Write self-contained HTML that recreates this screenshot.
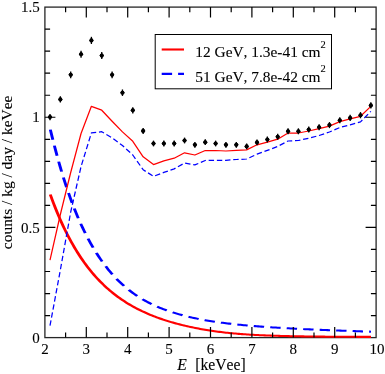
<!DOCTYPE html>
<html><head><meta charset="utf-8"><title>plot</title>
<style>
html,body{margin:0;padding:0;background:#fff;}
svg{display:block;will-change:transform;}
text{font-family:"Liberation Serif",serif;fill:#000;stroke:#000;stroke-width:0.1px;font-kerning:none;}
</style></head><body>
<svg width="385" height="374" viewBox="0 0 385 374">
<rect x="0" y="0" width="385" height="374" fill="#fff"/>

<rect x="44.9" y="7.1" width="331.20" height="330.50" fill="none" stroke="#262626" stroke-width="1.3"/>
<path transform="scale(1.42,1)" d="M35.423,194.54 L36.557,198.97 L37.692,203.25 L38.827,207.39 L39.962,211.39 L41.097,215.25 L42.232,218.99 L43.367,222.60 L44.502,226.08 L45.637,229.46 L46.772,232.72 L47.906,235.88 L49.041,238.93 L50.176,241.89 L51.311,244.74 L52.446,247.51 L53.581,250.19 L54.716,252.78 L55.851,255.29 L56.986,257.72 L58.121,260.07 L59.255,262.35 L60.390,264.56 L61.525,266.69 L62.660,268.77 L63.795,270.77 L64.930,272.72 L66.065,274.60 L67.200,276.43 L68.335,278.20 L69.470,279.92 L70.604,281.59 L71.739,283.20 L72.874,284.77 L74.009,286.29 L75.144,287.76 L76.279,289.19 L77.414,290.58 L78.549,291.93 L79.684,293.23 L80.819,294.50 L81.953,295.73 L83.088,296.93 L84.223,298.09 L85.358,299.21 L86.493,300.31 L87.628,301.37 L88.763,302.40 L89.898,303.40 L91.033,304.38 L92.168,305.32 L93.302,306.24 L94.437,307.13 L95.572,308.00 L96.707,308.84 L97.842,309.66 L98.977,310.45 L100.112,311.23 L101.247,311.98 L102.382,312.71 L103.517,313.42 L104.651,314.11 L105.786,314.79 L106.921,315.44 L108.056,316.08 L109.191,316.70 L110.326,317.30 L111.461,317.89 L112.596,318.47 L113.731,319.03 L114.866,319.57 L116.000,320.10 L117.135,320.62 L118.270,321.12 L119.405,321.61 L120.540,322.09 L121.675,322.55 L122.810,323.01 L123.945,323.45 L125.080,323.88 L126.215,324.30 L127.349,324.71 L128.484,325.11 L129.619,325.50 L130.754,325.88 L131.889,326.25 L133.024,326.61 L134.159,326.96 L135.294,327.30 L136.429,327.64 L137.564,327.96 L138.698,328.28 L139.833,328.59 L140.968,328.89 L142.103,329.18 L143.238,329.46 L144.373,329.74 L145.508,330.01 L146.643,330.27 L147.778,330.52 L148.913,330.77 L150.047,331.01 L151.182,331.24 L152.317,331.46 L153.452,331.67 L154.587,331.88 L155.722,332.08 L156.857,332.28 L157.992,332.46 L159.127,332.64 L160.262,332.82 L161.396,332.98 L162.531,333.15 L163.666,333.30 L164.801,333.45 L165.936,333.59 L167.071,333.73 L168.206,333.86 L169.341,333.99 L170.476,334.11 L171.611,334.23 L172.745,334.34 L173.880,334.45 L175.015,334.55 L176.150,334.65 L177.285,334.74 L178.420,334.83 L179.555,334.92 L180.690,335.00 L181.825,335.08 L182.960,335.16 L184.094,335.23 L185.229,335.30 L186.364,335.37 L187.499,335.44 L188.634,335.50 L189.769,335.56 L190.904,335.61 L192.039,335.67 L193.174,335.72 L194.309,335.77 L195.443,335.82 L196.578,335.87 L197.713,335.91 L198.848,335.96 L199.983,336.00 L201.118,336.04 L202.253,336.07 L203.388,336.11 L204.523,336.15 L205.658,336.18 L206.792,336.21 L207.927,336.25 L209.062,336.28 L210.197,336.30 L211.332,336.33 L212.467,336.36 L213.602,336.39 L214.737,336.41 L215.872,336.43 L217.007,336.46 L218.141,336.48 L219.276,336.50 L220.411,336.52 L221.546,336.54 L222.681,336.56 L223.816,336.58 L224.951,336.60 L226.086,336.61 L227.221,336.63 L228.356,336.64 L229.490,336.66 L230.625,336.67 L231.760,336.69 L232.895,336.70 L234.030,336.71 L235.165,336.73 L236.300,336.74 L237.435,336.75 L238.570,336.76 L239.705,336.77 L240.839,336.78 L241.974,336.79 L243.109,336.80 L244.244,336.81 L245.379,336.81 L246.514,336.82 L247.649,336.83 L248.784,336.84 L249.919,336.84 L251.054,336.85 L252.188,336.85 L253.323,336.86 L254.458,336.87 L255.593,336.87 L256.728,336.87 L257.863,336.88 L258.998,336.88 L260.133,336.89 L261.268,336.89" fill="none" stroke="#ff0000" stroke-width="2.05" stroke-linecap="butt" stroke-linejoin="round"/>
<path transform="scale(1.42,1)" d="M35.458,129.69 L36.592,136.21 L37.229,139.79 M38.297,145.69 L38.862,148.78 L39.997,154.79 L40.182,155.74 M41.333,161.62 L42.266,166.26 L43.379,171.61 M44.638,177.44 L45.670,182.07 L46.805,186.98 L46.889,187.33 M48.281,193.11 L49.074,196.31 L50.209,200.72 L50.782,202.88 M52.330,208.57 L52.479,209.11 L53.613,213.08 L54.748,216.92 L55.133,218.18 M56.874,223.75 L57.017,224.21 L58.152,227.66 L59.287,231.00 L60.037,233.13 M62.009,238.55 L62.691,240.37 L63.826,243.28 L64.961,246.10 L65.594,247.62 M67.838,252.82 L68.365,254.00 L69.499,256.47 L70.634,258.85 L71.769,261.15 L71.923,261.45 M74.484,266.35 L75.173,267.61 L76.308,269.63 L77.442,271.58 L78.577,273.45 L79.152,274.36 M82.080,278.82 L83.116,280.31 L84.251,281.89 L85.386,283.41 L86.520,284.88 L87.394,285.98 M90.696,289.88 L91.059,290.29 L92.194,291.53 L93.329,292.72 L94.463,293.87 L95.598,294.99 L96.630,295.97 M100.279,299.18 L101.272,300.00 L102.406,300.90 L103.541,301.77 L104.676,302.61 L105.811,303.43 L106.741,304.07 M110.649,306.60 L111.484,307.11 L112.619,307.78 L113.754,308.43 L114.888,309.05 L116.023,309.66 L117.158,310.25 L117.465,310.40 M121.534,312.36 L121.697,312.43 L122.831,312.94 L123.966,313.43 L125.101,313.90 L126.236,314.36 L127.370,314.81 L128.505,315.24 L128.565,315.27 M132.731,316.76 L133.044,316.86 L134.179,317.24 L135.313,317.61 L136.448,317.96 L137.583,318.31 L138.718,318.64 L139.852,318.97 L139.885,318.98 M144.108,320.10 L144.391,320.17 L145.526,320.44 L146.661,320.71 L147.795,320.98 L148.930,321.23 L150.065,321.48 L151.199,321.72 L151.338,321.75 M155.592,322.60 L155.738,322.63 L156.873,322.84 L158.008,323.05 L159.143,323.25 L160.277,323.44 L161.412,323.63 L162.547,323.82 L162.861,323.87 M167.132,324.53 L168.220,324.68 L169.355,324.84 L170.490,325.00 L171.624,325.15 L172.759,325.30 L173.894,325.44 L174.423,325.51 M178.704,326.02 L179.568,326.12 L180.702,326.24 L181.837,326.36 L182.972,326.48 L184.106,326.61 L185.241,326.73 L186.007,326.81 M190.292,327.23 L190.915,327.29 L192.050,327.40 L193.184,327.50 L194.319,327.60 L195.454,327.70 L196.588,327.80 L197.601,327.89 M201.890,328.23 L202.262,328.26 L203.397,328.35 L204.531,328.43 L205.666,328.52 L206.801,328.60 L207.936,328.68 L209.070,328.76 L209.204,328.77 M213.495,329.07 L213.609,329.08 L214.744,329.15 L215.879,329.23 L217.013,329.31 L218.148,329.38 L219.283,329.46 L220.418,329.53 L220.811,329.55 M225.103,329.82 L226.091,329.88 L227.226,329.94 L228.361,330.01 L229.495,330.08 L230.630,330.14 L231.765,330.20 L232.421,330.24 M236.713,330.47 L237.438,330.51 L238.573,330.57 L239.708,330.63 L240.843,330.69 L241.977,330.75 L243.112,330.81 L244.032,330.85 M248.326,331.06 L248.786,331.09 L249.920,331.14 L251.055,331.19 L252.190,331.25 L253.325,331.30 L254.459,331.36 L255.594,331.41 L255.645,331.41 M259.939,331.61 L260.133,331.61 L261.268,331.67" fill="none" stroke="#0000ff" stroke-width="2.05" stroke-linecap="butt" stroke-linejoin="round"/>
<path d="M50.00,260.20 L60.35,214.50 L70.70,172.50 L81.05,133.50 L91.40,106.30 L101.75,110.20 L112.10,121.20 L122.45,131.90 L132.80,141.30 L143.15,156.80 L153.50,164.60 L163.85,160.90 L174.20,158.20 L184.55,152.80 L194.90,155.00 L205.25,150.50 L215.60,150.50 L225.95,151.00 L236.30,150.40 L246.65,149.90 L257.00,144.80 L267.35,142.10 L277.70,139.20 L288.05,133.00 L298.40,133.00 L308.75,131.00 L319.10,128.60 L329.45,126.10 L339.80,121.60 L350.15,118.90 L360.50,116.30 L370.85,106.40" fill="none" stroke="#ff0000" stroke-width="1.25" stroke-linejoin="round"/>
<path d="M50.00,325.70 L60.35,270.00 L70.70,212.00 L81.05,166.50 L91.40,132.90 L101.75,131.70 L112.10,137.80 L122.45,145.50 L132.80,155.00 L143.15,169.70 L153.50,176.40 L163.85,172.40 L174.20,168.90 L184.55,163.00 L194.90,164.90 L205.25,160.50 L215.60,160.30 L225.95,160.30 L236.30,159.50 L246.65,159.00 L257.00,154.20 L267.35,150.40 L277.70,146.40 L288.05,141.00 L298.40,140.50 L308.75,138.20 L319.10,135.50 L329.45,132.00 L339.80,127.50 L350.15,124.80 L360.50,121.90 L370.85,111.40" fill="none" stroke="#0000ff" stroke-width="1.25" stroke-dasharray="5.4 2.8" stroke-linejoin="round"/>
<path d="M50.00,114.02 V120.18" stroke="#000" stroke-width="1.3"/>
<path d="M47.70,117.10 L50.00,114.50 L52.30,117.10 L50.00,119.70 Z" fill="#000"/>
<ellipse cx="50.00" cy="117.10" rx="2.0" ry="2.05" fill="#000"/>
<path d="M60.35,96.20 V102.60" stroke="#000" stroke-width="1.3"/>
<path d="M58.05,99.40 L60.35,96.80 L62.65,99.40 L60.35,102.00 Z" fill="#000"/>
<ellipse cx="60.35" cy="99.40" rx="2.0" ry="2.05" fill="#000"/>
<path d="M70.70,71.44 V78.16" stroke="#000" stroke-width="1.3"/>
<path d="M68.40,74.80 L70.70,72.20 L73.00,74.80 L70.70,77.40 Z" fill="#000"/>
<ellipse cx="70.70" cy="74.80" rx="2.0" ry="2.05" fill="#000"/>
<path d="M81.05,50.71 V57.69" stroke="#000" stroke-width="1.3"/>
<path d="M78.75,54.20 L81.05,51.60 L83.35,54.20 L81.05,56.80 Z" fill="#000"/>
<ellipse cx="81.05" cy="54.20" rx="2.0" ry="2.05" fill="#000"/>
<path d="M91.40,36.82 V43.98" stroke="#000" stroke-width="1.3"/>
<path d="M89.10,40.40 L91.40,37.80 L93.70,40.40 L91.40,43.00 Z" fill="#000"/>
<ellipse cx="91.40" cy="40.40" rx="2.0" ry="2.05" fill="#000"/>
<path d="M101.75,52.12 V59.08" stroke="#000" stroke-width="1.3"/>
<path d="M99.45,55.60 L101.75,53.00 L104.05,55.60 L101.75,58.20 Z" fill="#000"/>
<ellipse cx="101.75" cy="55.60" rx="2.0" ry="2.05" fill="#000"/>
<path d="M112.10,71.44 V78.16" stroke="#000" stroke-width="1.3"/>
<path d="M109.80,74.80 L112.10,72.20 L114.40,74.80 L112.10,77.40 Z" fill="#000"/>
<ellipse cx="112.10" cy="74.80" rx="2.0" ry="2.05" fill="#000"/>
<path d="M122.45,89.45 V95.95" stroke="#000" stroke-width="1.3"/>
<path d="M120.15,92.70 L122.45,90.10 L124.75,92.70 L122.45,95.30 Z" fill="#000"/>
<ellipse cx="122.45" cy="92.70" rx="2.0" ry="2.05" fill="#000"/>
<path d="M132.80,107.17 V113.43" stroke="#000" stroke-width="1.3"/>
<path d="M130.50,110.30 L132.80,107.70 L135.10,110.30 L132.80,112.90 Z" fill="#000"/>
<ellipse cx="132.80" cy="110.30" rx="2.0" ry="2.05" fill="#000"/>
<path d="M143.15,127.92 V133.88" stroke="#000" stroke-width="1.3"/>
<path d="M140.85,130.90 L143.15,128.30 L145.45,130.90 L143.15,133.50 Z" fill="#000"/>
<ellipse cx="143.15" cy="130.90" rx="2.0" ry="2.05" fill="#000"/>
<path d="M153.50,140.61 V146.39" stroke="#000" stroke-width="1.3"/>
<path d="M151.20,143.50 L153.50,140.90 L155.80,143.50 L153.50,146.10 Z" fill="#000"/>
<ellipse cx="153.50" cy="143.50" rx="2.0" ry="2.05" fill="#000"/>
<path d="M163.85,140.61 V146.39" stroke="#000" stroke-width="1.3"/>
<path d="M161.55,143.50 L163.85,140.90 L166.15,143.50 L163.85,146.10 Z" fill="#000"/>
<ellipse cx="163.85" cy="143.50" rx="2.0" ry="2.05" fill="#000"/>
<path d="M174.20,140.61 V146.39" stroke="#000" stroke-width="1.3"/>
<path d="M171.90,143.50 L174.20,140.90 L176.50,143.50 L174.20,146.10 Z" fill="#000"/>
<ellipse cx="174.20" cy="143.50" rx="2.0" ry="2.05" fill="#000"/>
<path d="M184.55,137.59 V143.41" stroke="#000" stroke-width="1.3"/>
<path d="M182.25,140.50 L184.55,137.90 L186.85,140.50 L184.55,143.10 Z" fill="#000"/>
<ellipse cx="184.55" cy="140.50" rx="2.0" ry="2.05" fill="#000"/>
<path d="M194.90,141.92 V147.68" stroke="#000" stroke-width="1.3"/>
<path d="M192.60,144.80 L194.90,142.20 L197.20,144.80 L194.90,147.40 Z" fill="#000"/>
<ellipse cx="194.90" cy="144.80" rx="2.0" ry="2.05" fill="#000"/>
<path d="M205.25,139.30 V145.10" stroke="#000" stroke-width="1.3"/>
<path d="M202.95,142.20 L205.25,139.60 L207.55,142.20 L205.25,144.80 Z" fill="#000"/>
<ellipse cx="205.25" cy="142.20" rx="2.0" ry="2.05" fill="#000"/>
<path d="M215.60,140.61 V146.39" stroke="#000" stroke-width="1.3"/>
<path d="M213.30,143.50 L215.60,140.90 L217.90,143.50 L215.60,146.10 Z" fill="#000"/>
<ellipse cx="215.60" cy="143.50" rx="2.0" ry="2.05" fill="#000"/>
<path d="M225.95,141.92 V147.68" stroke="#000" stroke-width="1.3"/>
<path d="M223.65,144.80 L225.95,142.20 L228.25,144.80 L225.95,147.40 Z" fill="#000"/>
<ellipse cx="225.95" cy="144.80" rx="2.0" ry="2.05" fill="#000"/>
<path d="M236.30,141.92 V147.68" stroke="#000" stroke-width="1.3"/>
<path d="M234.00,144.80 L236.30,142.20 L238.60,144.80 L236.30,147.40 Z" fill="#000"/>
<ellipse cx="236.30" cy="144.80" rx="2.0" ry="2.05" fill="#000"/>
<path d="M246.65,143.53 V149.27" stroke="#000" stroke-width="1.3"/>
<path d="M244.35,146.40 L246.65,143.80 L248.95,146.40 L246.65,149.00 Z" fill="#000"/>
<ellipse cx="246.65" cy="146.40" rx="2.0" ry="2.05" fill="#000"/>
<path d="M257.00,139.50 V145.30" stroke="#000" stroke-width="1.3"/>
<path d="M254.70,142.40 L257.00,139.80 L259.30,142.40 L257.00,145.00 Z" fill="#000"/>
<ellipse cx="257.00" cy="142.40" rx="2.0" ry="2.05" fill="#000"/>
<path d="M267.35,136.58 V142.42" stroke="#000" stroke-width="1.3"/>
<path d="M265.05,139.50 L267.35,136.90 L269.65,139.50 L267.35,142.10 Z" fill="#000"/>
<ellipse cx="267.35" cy="139.50" rx="2.0" ry="2.05" fill="#000"/>
<path d="M277.70,133.86 V139.74" stroke="#000" stroke-width="1.3"/>
<path d="M275.40,136.80 L277.70,134.20 L280.00,136.80 L277.70,139.40 Z" fill="#000"/>
<ellipse cx="277.70" cy="136.80" rx="2.0" ry="2.05" fill="#000"/>
<path d="M288.05,128.32 V134.28" stroke="#000" stroke-width="1.3"/>
<path d="M285.75,131.30 L288.05,128.70 L290.35,131.30 L288.05,133.90 Z" fill="#000"/>
<ellipse cx="288.05" cy="131.30" rx="2.0" ry="2.05" fill="#000"/>
<path d="M298.40,128.32 V134.28" stroke="#000" stroke-width="1.3"/>
<path d="M296.10,131.30 L298.40,128.70 L300.70,131.30 L298.40,133.90 Z" fill="#000"/>
<ellipse cx="298.40" cy="131.30" rx="2.0" ry="2.05" fill="#000"/>
<path d="M308.75,126.61 V132.59" stroke="#000" stroke-width="1.3"/>
<path d="M306.45,129.60 L308.75,127.00 L311.05,129.60 L308.75,132.20 Z" fill="#000"/>
<ellipse cx="308.75" cy="129.60" rx="2.0" ry="2.05" fill="#000"/>
<path d="M319.10,124.19 V130.21" stroke="#000" stroke-width="1.3"/>
<path d="M316.80,127.20 L319.10,124.60 L321.40,127.20 L319.10,129.80 Z" fill="#000"/>
<ellipse cx="319.10" cy="127.20" rx="2.0" ry="2.05" fill="#000"/>
<path d="M329.45,122.08 V128.12" stroke="#000" stroke-width="1.3"/>
<path d="M327.15,125.10 L329.45,122.50 L331.75,125.10 L329.45,127.70 Z" fill="#000"/>
<ellipse cx="329.45" cy="125.10" rx="2.0" ry="2.05" fill="#000"/>
<path d="M339.80,117.24 V123.36" stroke="#000" stroke-width="1.3"/>
<path d="M337.50,120.30 L339.80,117.70 L342.10,120.30 L339.80,122.90 Z" fill="#000"/>
<ellipse cx="339.80" cy="120.30" rx="2.0" ry="2.05" fill="#000"/>
<path d="M350.15,114.82 V120.98" stroke="#000" stroke-width="1.3"/>
<path d="M347.85,117.90 L350.15,115.30 L352.45,117.90 L350.15,120.50 Z" fill="#000"/>
<ellipse cx="350.15" cy="117.90" rx="2.0" ry="2.05" fill="#000"/>
<path d="M360.50,112.11 V118.29" stroke="#000" stroke-width="1.3"/>
<path d="M358.20,115.20 L360.50,112.60 L362.80,115.20 L360.50,117.80 Z" fill="#000"/>
<ellipse cx="360.50" cy="115.20" rx="2.0" ry="2.05" fill="#000"/>
<path d="M370.85,102.24 V108.56" stroke="#000" stroke-width="1.3"/>
<path d="M368.55,105.40 L370.85,102.80 L373.15,105.40 L370.85,108.00 Z" fill="#000"/>
<ellipse cx="370.85" cy="105.40" rx="2.0" ry="2.05" fill="#000"/>
<path d="M65.60,337.6 v-5.2 M65.60,7.1 v5.2 M86.30,337.6 v-10.5 M86.30,7.1 v10.5 M107.00,337.6 v-5.2 M107.00,7.1 v5.2 M127.70,337.6 v-10.5 M127.70,7.1 v10.5 M148.40,337.6 v-5.2 M148.40,7.1 v5.2 M169.10,337.6 v-10.5 M169.10,7.1 v10.5 M189.80,337.6 v-5.2 M189.80,7.1 v5.2 M210.50,337.6 v-10.5 M210.50,7.1 v10.5 M231.20,337.6 v-5.2 M231.20,7.1 v5.2 M251.90,337.6 v-10.5 M251.90,7.1 v10.5 M272.60,337.6 v-5.2 M272.60,7.1 v5.2 M293.30,337.6 v-10.5 M293.30,7.1 v10.5 M314.00,337.6 v-5.2 M314.00,7.1 v5.2 M334.70,337.6 v-10.5 M334.70,7.1 v10.5 M355.40,337.6 v-5.2 M355.40,7.1 v5.2 M44.9,315.57 h5.2 M376.1,315.57 h-5.2 M44.9,293.53 h5.2 M376.1,293.53 h-5.2 M44.9,271.50 h5.2 M376.1,271.50 h-5.2 M44.9,249.47 h5.2 M376.1,249.47 h-5.2 M44.9,227.43 h10.5 M376.1,227.43 h-10.5 M44.9,205.40 h5.2 M376.1,205.40 h-5.2 M44.9,183.37 h5.2 M376.1,183.37 h-5.2 M44.9,161.33 h5.2 M376.1,161.33 h-5.2 M44.9,139.30 h5.2 M376.1,139.30 h-5.2 M44.9,117.27 h10.5 M376.1,117.27 h-10.5 M44.9,95.23 h5.2 M376.1,95.23 h-5.2 M44.9,73.20 h5.2 M376.1,73.20 h-5.2 M44.9,51.17 h5.2 M376.1,51.17 h-5.2 M44.9,29.13 h5.2 M376.1,29.13 h-5.2" stroke="#000" stroke-width="1.2" fill="none"/>
<text x="44.90" y="354" font-size="15" text-anchor="middle">2</text>
<text x="86.30" y="354" font-size="15" text-anchor="middle">3</text>
<text x="127.70" y="354" font-size="15" text-anchor="middle">4</text>
<text x="169.10" y="354" font-size="15" text-anchor="middle">5</text>
<text x="210.50" y="354" font-size="15" text-anchor="middle">6</text>
<text x="251.90" y="354" font-size="15" text-anchor="middle">7</text>
<text x="293.30" y="354" font-size="15" text-anchor="middle">8</text>
<text x="334.70" y="354" font-size="15" text-anchor="middle">9</text>
<text x="377.10" y="354" font-size="15" text-anchor="middle">10</text>
<text x="39.8" y="342.60" font-size="15" text-anchor="end">0</text>
<text x="39.8" y="233.03" font-size="15" text-anchor="end">0.5</text>
<text x="39.8" y="122.47" font-size="15" text-anchor="end">1</text>
<text x="39.8" y="12.10" font-size="15" text-anchor="end">1.5</text>
<text x="177.3" y="370" font-size="15.7"><tspan font-style="italic">E</tspan></text>
<text x="195.2" y="370" font-size="15.7">[keVee]</text>
<text transform="translate(11.9,172.4) rotate(-90)" font-size="15.45" text-anchor="middle">counts / kg / day / keVee</text>
<rect x="155.2" y="34.5" width="176.3" height="54.3" fill="#fff" stroke="#000" stroke-width="1"/>
<path d="M161.7,49.5 H184" stroke="#ff0000" stroke-width="2.1"/>
<path d="M161.7,73.85 H184" stroke="#0000ff" stroke-width="2.1" stroke-dasharray="10.4 6"/>
<text x="195.3" y="57.0" font-size="15.4">12 GeV, 1.3e-41 cm<tspan font-size="10.5" dy="-9.4">2</tspan></text>
<text x="195.3" y="81.5" font-size="15.4">51 GeV, 7.8e-42 cm<tspan font-size="10.5" dy="-9.4">2</tspan></text>
</svg></body></html>
